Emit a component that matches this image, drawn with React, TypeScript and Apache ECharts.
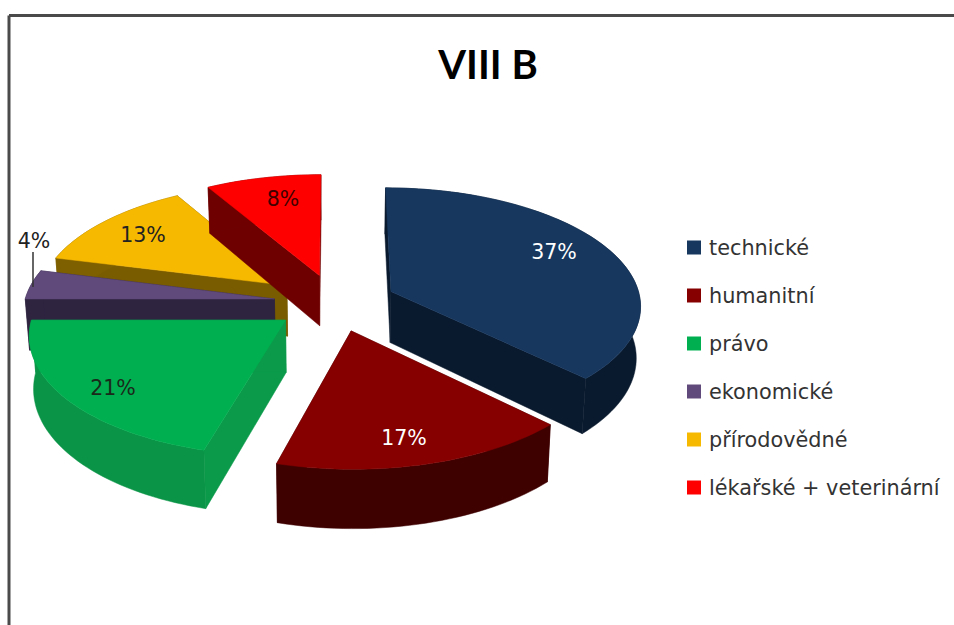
import React, { useEffect, useRef } from "react";
import * as echarts from "echarts";

const categories = ["technické", "humanitní", "právo", "ekonomické", "přírodovědné", "lékařské + veterinární"];
const values = [37.4, 16.9, 20.7, 4.0, 12.6, 8.4];
const topColors = ["#17375e", "#860000", "#00b050", "#604a7b", "#f7b900", "#ff0000"];
const outerWallColors = ["#0a1a2e", "#3f0000", "#0a9447", "#2f2440", "#7f6000", "#6e0000"];
const cutWallColors = ["#0a1a2e", "#3f0000", "#0b9a4a", "#2f2440", "#7a5c00", "#6e0000"];
const labelColors = ["#ffffff", "#ffffff", "#1a2a1a", "#222222", "#222222", "#400000"];

const paintOrder = [3, 6, 5, 4, 1, 2];
const labelAnchors = [[554, 252], [404, 438], [113, 388], [34, 241], [143, 235], [283, 199]];

const CX = 335;
const CY = 302.5;
const RX = 250;
const RY = 117;
const PERSP = 0.107;
const EXPLODE = 0.245;
const DEPTH = 51.5;
const BOTTOM_SHRINK = 0.986;

function project(u: number, v: number, bottom: boolean): number[] {
  const s = 1 / (1 - PERSP * v);
  const x = RX * u * s;
  const y = CY + RY * v * s;
  return bottom ? [CX + x * BOTTOM_SHRINK, y + DEPTH * s] : [CX + x, y];
}

function sliceShapes(index: number, value: number) {
  const total = values.reduce((a, b) => a + b, 0);
  const before = values.slice(0, index).reduce((a, b) => a + b, 0);
  const a0 = (before / total) * Math.PI * 2;
  const a1 = ((before + value) / total) * Math.PI * 2;
  const mid = (a0 + a1) / 2;
  const u0 = EXPLODE * Math.sin(mid);
  const v0 = -EXPLODE * Math.cos(mid);
  const steps = Math.max(4, Math.ceil((a1 - a0) / 0.03));
  const arc = (bottom: boolean) => {
    const out: number[][] = [];
    for (let i = 0; i <= steps; i++) {
      const a = a0 + ((a1 - a0) * i) / steps;
      out.push(project(u0 + Math.sin(a), v0 - Math.cos(a), bottom));
    }
    return out;
  };
  const topArc = arc(false);
  const botArc = arc(true);
  const apexTop = project(u0, v0, false);
  const apexBot = project(u0, v0, true);
  return {
    top: [apexTop, ...topArc],
    outer: [...topArc, ...botArc.slice().reverse()],
    cutStart: [apexTop, topArc[0], botArc[0], apexBot],
    cutEnd: [apexTop, topArc[steps], botArc[steps], apexBot],
  };
}

function makeRender(index: number) {
  return (_params: any, api: any) => {
    const value = api.value(0);
    const s = sliceShapes(index, value);
    const poly = (points: number[][], fill: string) => ({
      type: "polygon",
      shape: { points },
      style: { fill, stroke: fill, lineWidth: 0.5 },
    });
    return {
      type: "group",
      children: [
        poly(s.cutStart, cutWallColors[index]),
        poly(s.cutEnd, cutWallColors[index]),
        poly(s.outer, outerWallColors[index]),
        poly(s.top, topColors[index]),
        {
          type: "text",
          z2: 100,
          style: {
            text: `${Math.round(value)}%`,
            x: labelAnchors[index][0],
            y: labelAnchors[index][1],
            fill: labelColors[index],
            font: '20.5px "DejaVu Sans"',
            align: "center",
            verticalAlign: "middle",
          },
        },
      ],
    };
  };
}

export default function App() {
  const ref = useRef<HTMLDivElement>(null);
  useEffect(() => {
    const chart = echarts.init(ref.current!, undefined, { renderer: "svg" });
    chart.setOption({
      animation: false,
      backgroundColor: "#ffffff",
      title: {
        text: "VIII B",
        left: 483,
        top: 59,
        textAlign: "center",
        textVerticalAlign: "middle",
        textStyle: { fontFamily: "Lato", fontWeight: "bold", fontSize: 40, color: "#000000" },
      },
      legend: {
        orient: "vertical",
        left: 682,
        top: 232,
        itemWidth: 14,
        itemHeight: 14,
        itemGap: 27,
        icon: "rect",
        data: categories,
        selectedMode: false,
        textStyle: { fontFamily: "DejaVu Sans", fontSize: 20.8, color: "#333333", padding: [0, 0, 0, 3] },
      },
      graphic: [
        { type: "line", shape: { x1: 9, y1: 15.5, x2: 954, y2: 15.5 }, style: { stroke: "#4a4a4a", lineWidth: 3 } },
        { type: "line", shape: { x1: 9, y1: 15.5, x2: 9, y2: 625 }, style: { stroke: "#4a4a4a", lineWidth: 3 } },
        { type: "line", shape: { x1: 33, y1: 252, x2: 33, y2: 287 }, style: { stroke: "#333333", lineWidth: 1.5 }, z: 50 },
      ],
      series: categories.map((name, i) => ({
        type: "custom",
        name,
        coordinateSystem: "none",
        z: paintOrder[i],
        silent: true,
        itemStyle: { color: topColors[i] },
        data: [[values[i]]],
        renderItem: makeRender(i),
      })),
    });
    return () => chart.dispose();
  }, []);
  return <div ref={ref} style={{ position: "absolute", left: 0, top: 0, width: 954, height: 625 }} />;
}
